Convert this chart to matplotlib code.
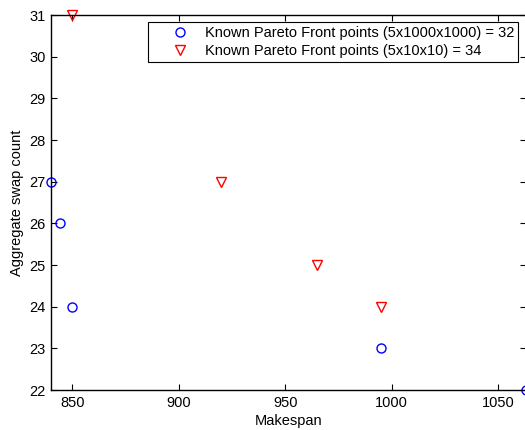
import matplotlib
matplotlib.use("Agg")
import matplotlib.pyplot as plt

plt.rcParams['font.family'] = ['Liberation Sans', 'DejaVu Sans']

blue_x = [840, 844, 850, 995, 1063]
blue_y = [27, 26, 24, 23, 22]
red_x = [850, 920, 965, 995]
red_y = [31, 27, 25, 24]
blue_label = "Known Pareto Front points (5x1000x1000) = 32"
red_label = "Known Pareto Front points (5x10x10) = 34"
xticks = [850, 900, 950, 1000, 1050]
yticks = [22, 23, 24, 25, 26, 27, 28, 29, 30, 31]

fs = 10.5
fig = plt.figure(figsize=(5.25, 4.3), dpi=100)
ax = fig.add_axes([51/525, 40/430, 475/525, 375/430])

ax.plot(blue_x, blue_y, linestyle='none', marker='o', markersize=6.5,
        markerfacecolor='none', markeredgecolor='#0000ff', markeredgewidth=1.0,
        label=blue_label, clip_on=False)
ax.plot(red_x, red_y, linestyle='none', marker='v', markersize=7,
        markerfacecolor='none', markeredgecolor='#ff0000', markeredgewidth=1.0,
        label=red_label, clip_on=False)

ax.set_xlim(840, 1063)
ax.set_ylim(22, 31)
ax.set_xticks(xticks)
ax.set_yticks(yticks)
ax.tick_params(direction='in', top=True, right=True, length=4, width=0.8,
               labelsize=fs, pad=4)
for s in ax.spines.values():
    s.set_linewidth(1.0)

ax.set_xlabel("Makespan", fontsize=fs, labelpad=3)
ax.set_ylabel("Aggregate swap count", fontsize=fs, labelpad=4)

leg = ax.legend(loc='upper right', bbox_to_anchor=(0.983, 0.981),
                borderaxespad=0, fontsize=fs, fancybox=False, framealpha=1,
                edgecolor='black', handlelength=3.9, handletextpad=-0.25,
                borderpad=0.25, labelspacing=0.3, numpoints=1)
leg.get_frame().set_linewidth(0.8)

fig.savefig("out.png", dpi=100)
